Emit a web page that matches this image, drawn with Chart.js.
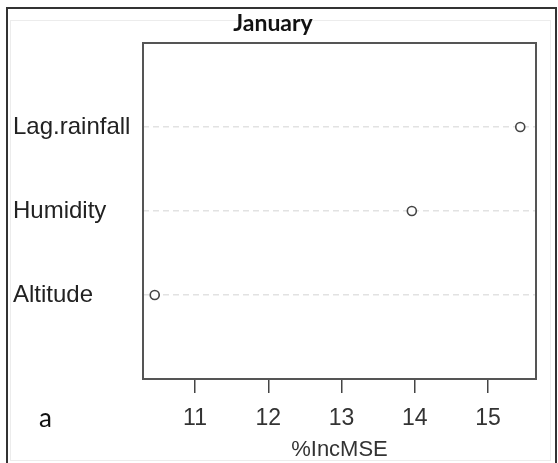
<!DOCTYPE html>
<html lang="en">
<head>
    <meta charset="UTF-8">
    <title>January %IncMSE</title>
    <style>
        body {
            margin: 0;
            padding: 0;
            background-color: #fff;
        }

        .chart-container {
            width: 558px;
            height: 463px;
        }
    </style>
</head>
<body>
    <div class="chart-container">
        <canvas id="mseChart" width="558" height="463"></canvas>
    </div>

    <script src="https://cdn.jsdelivr.net/npm/chart.js"></script>
    <script>
        // values (bottom to top)
        const variables = ['Altitude', 'Humidity', 'Lag.rainfall'];
        const incMSE = [10.45, 13.96, 15.44];
        const xTicks = [11, 12, 13, 14, 15];
        const chartTitle = 'January';
        const axisTitle = '%IncMSE';
        const panelLetter = 'a';

        // outer frame, plot box, title and panel letter
        const framePlugin = {
            id: 'frame',
            afterDraw(chart) {
                const ctx = chart.ctx;
                const area = chart.chartArea;
                ctx.save();
                // faint inner frame
                ctx.strokeStyle = '#ececec';
                ctx.lineWidth = 1;
                ctx.strokeRect(10.5, 20.5, 540, 440);
                // outer frame
                ctx.strokeStyle = '#333';
                ctx.lineWidth = 2;
                ctx.beginPath();
                ctx.moveTo(7, 470);
                ctx.lineTo(7, 8);
                ctx.lineTo(556, 8);
                ctx.lineTo(556, 470);
                ctx.stroke();
                // plot box
                ctx.strokeStyle = '#555';
                ctx.lineWidth = 2;
                ctx.strokeRect(area.left, area.top, area.right - area.left, area.bottom - area.top);
                // title
                ctx.fillStyle = '#111';
                ctx.font = 'bold 23px Lato';
                ctx.textAlign = 'center';
                ctx.textBaseline = 'middle';
                ctx.fillText(chartTitle, 273, 24);
                // panel letter
                ctx.font = '26px Lato';
                ctx.textAlign = 'left';
                ctx.fillText(panelLetter, 39, 419);
                ctx.restore();
            }
        };

        const points = incMSE.map((v, i) => ({ x: v, y: i + 1 }));

        const ctx = document.getElementById('mseChart').getContext('2d');
        new Chart(ctx, {
            type: 'scatter',
            data: {
                datasets: [{
                    label: axisTitle,
                    data: points,
                    pointStyle: 'circle',
                    pointRadius: 4.5,
                    pointBorderWidth: 1.6,
                    pointBorderColor: '#444',
                    pointBackgroundColor: '#fff'
                }]
            },
            options: {
                responsive: false,
                animation: false,
                layout: {
                    padding: { left: 13, top: 43, right: 22, bottom: 0 }
                },
                plugins: {
                    legend: { display: false },
                    tooltip: { enabled: false }
                },
                scales: {
                    x: {
                        type: 'linear',
                        min: 10.29,
                        max: 15.655,
                        afterBuildTicks: scale => {
                            scale.ticks = xTicks.map(v => ({ value: v }));
                        },
                        afterFit: scale => {
                            scale.height = 84;
                        },
                        border: { display: false },
                        grid: {
                            drawOnChartArea: false,
                            drawTicks: true,
                            tickLength: 14,
                            color: '#444',
                            lineWidth: 1.5
                        },
                        ticks: {
                            color: '#333',
                            font: { family: 'Arial', size: 23 },
                            padding: 12,
                            maxRotation: 0
                        },
                        title: {
                            display: true,
                            text: axisTitle,
                            color: '#333',
                            font: { family: 'Arial', size: 22 },
                            padding: { top: 0, bottom: 0 }
                        }
                    },
                    y: {
                        type: 'linear',
                        min: 0,
                        max: 4,
                        afterBuildTicks: scale => {
                            scale.ticks = variables.map((v, i) => ({ value: i + 1 }));
                        },
                        afterFit: scale => {
                            scale.width = 130;
                        },
                        grid: {
                            drawTicks: false,
                            color: '#e2e2e2',
                            lineWidth: 1.5
                        },
                        border: { display: false, dash: [6, 4] },
                        ticks: {
                            color: '#222',
                            font: { family: 'Arial', size: 24 },
                            crossAlign: 'far',
                            padding: 0,
                            callback: value => variables[value - 1]
                        }
                    }
                }
            },
            plugins: [framePlugin]
        });
    </script>
</body>
</html>
